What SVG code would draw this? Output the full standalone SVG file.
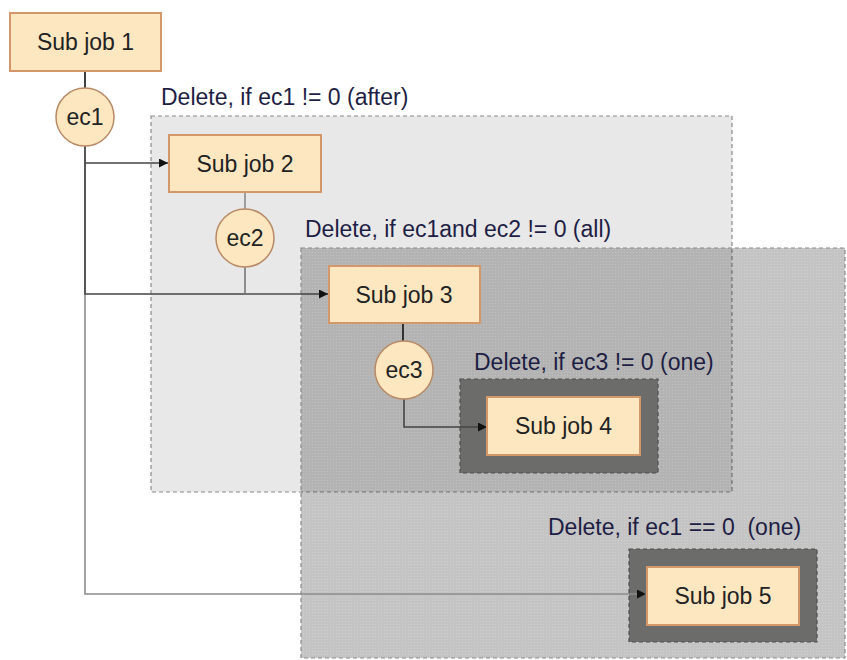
<svg xmlns="http://www.w3.org/2000/svg" width="847" height="660" viewBox="0 0 847 660">
<defs>
<pattern id="dots" width="3" height="3" patternUnits="userSpaceOnUse">
<rect width="3" height="3" fill="rgba(20,20,20,0.25)"/>
<rect x="0" y="0" width="1" height="1" fill="rgba(255,255,255,0.18)"/>
</pattern>
<marker id="arr" viewBox="0 0 10 10" refX="10" refY="5" markerWidth="9" markerHeight="9" markerUnits="userSpaceOnUse" orient="auto">
<path d="M0,0 L10,5 L0,10 z" fill="#111"/>
</marker>
<style>
.box{fill:#fde7c1;stroke:#d4976a;stroke-width:2}
.ec{fill:#fde7c1;stroke:#b98a66;stroke-width:1.5}
.t{font-family:"Liberation Sans",Arial,sans-serif;font-size:23px;fill:#222;text-anchor:middle}
.lbl{font-family:"Liberation Sans",Arial,sans-serif;font-size:23px;fill:#1e1e44}
.scope{stroke:#8a8a8a;stroke-width:1.2;stroke-dasharray:4 3}
.dark{fill:#6c6d6b;stroke:#4e4e4e;stroke-width:1.2;stroke-dasharray:4 3}
.c{fill:none;stroke-width:1.6}
</style>
</defs>
<rect width="847" height="660" fill="#ffffff"/>

<g id="scope1">
<rect class="scope" x="151" y="116" width="581" height="376" fill="#e8e8e8"/>
<text class="lbl" x="161" y="105">Delete, if ec1 != 0 (after)</text>
</g>
<g id="scope2">
<rect class="scope" x="301" y="248" width="544" height="410" fill="url(#dots)"/>
<text class="lbl" x="305" y="237">Delete, if ec1and ec2 != 0 (all)</text>
</g>
<g id="scope3">
<rect class="dark" x="460" y="379" width="198" height="94"/>
<text class="lbl" x="474" y="370">Delete, if ec3 != 0 (one)</text>
</g>
<g id="scope4">
<rect class="dark" x="629" y="549" width="188" height="93"/>
<text class="lbl" x="548" y="535" xml:space="preserve">Delete, if ec1 == 0  (one)</text>
</g>

<g id="connectors">
<line class="c" x1="85" y1="71" x2="85" y2="88" stroke="#111"/>
<path class="c" d="M85,146 V594 H646" stroke="#8c8c8c" marker-end="url(#arr)"/>
<path class="c" d="M85,146 V294 H328" stroke="#444" stroke-width="2" marker-end="url(#arr)"/>
<path class="c" d="M85,163 H168" stroke="#444" marker-end="url(#arr)"/>
<line class="c" x1="245" y1="192" x2="245" y2="209" stroke="#8a8a8a"/>
<path class="c" d="M245,267 V294 H300" stroke="#777"/>
<line class="c" x1="403" y1="323" x2="403" y2="341" stroke="#111"/>
<path class="c" d="M404,399 V427 H487" stroke="#444" marker-end="url(#arr)"/>
</g>

<g id="subjob1">
<rect class="box" x="10" y="13" width="151" height="58"/>
<text class="t" x="85.5" y="50">Sub job 1</text>
</g>
<g id="ec1">
<circle class="ec" cx="85" cy="117" r="29"/>
<text class="t" x="85" y="125">ec1</text>
</g>
<g id="subjob2">
<rect class="box" x="169" y="135" width="152" height="57"/>
<text class="t" x="245" y="172">Sub job 2</text>
</g>
<g id="ec2">
<circle class="ec" cx="245" cy="238" r="29"/>
<text class="t" x="245" y="246">ec2</text>
</g>
<g id="subjob3">
<rect class="box" x="329" y="266" width="151" height="57"/>
<text class="t" x="404" y="303">Sub job 3</text>
</g>
<g id="ec3">
<circle class="ec" cx="404" cy="370" r="29"/>
<text class="t" x="404" y="378">ec3</text>
</g>
<g id="subjob4">
<rect class="box" x="487" y="397" width="153" height="58"/>
<text class="t" x="563.5" y="434">Sub job 4</text>
</g>
<g id="subjob5">
<rect class="box" x="647" y="567" width="152" height="58"/>
<text class="t" x="723" y="604">Sub job 5</text>
</g>
</svg>
